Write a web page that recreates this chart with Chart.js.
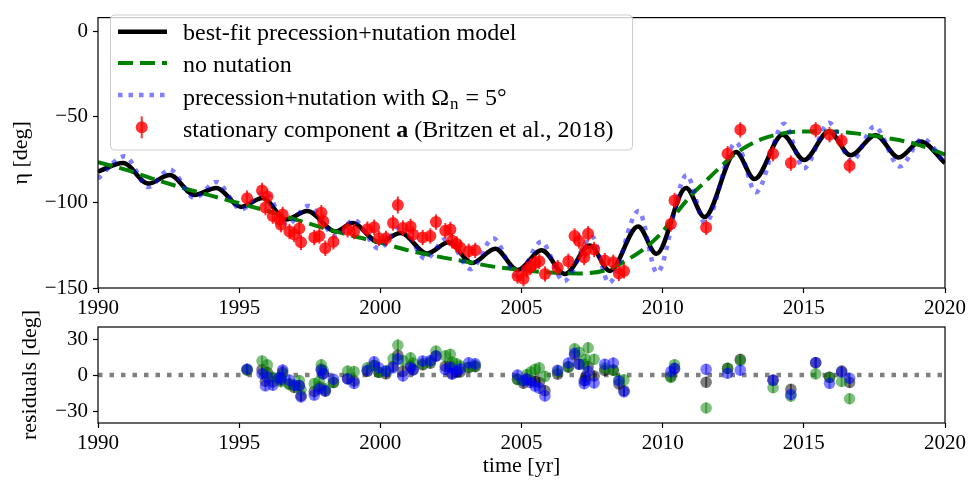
<!DOCTYPE html>
<html>
<head>
<meta charset="utf-8">
<script src="https://cdn.jsdelivr.net/npm/chart.js@4.4.0/dist/chart.umd.min.js"></script>
<style>
  body { margin: 0; background: #fff; }
  #wrap { position: relative; width: 969px; height: 487px; }
  canvas { position: absolute; left: 0; }
</style>
</head>
<body>
<div id="wrap">
  <canvas id="etaChart" width="969" height="320" style="top:0;width:969px;height:320px"></canvas>
  <canvas id="resChart" width="969" height="182" style="top:305px;width:969px;height:182px"></canvas>
</div>
<script>
// best-fit precession+nutation model (turning points)
var tBest   = [1990.0, 1990.89, 1991.78, 1992.54, 1993.42, 1994.19, 1995.07, 1995.83, 1996.66, 1997.41,
               1998.42, 1999.01, 1999.95, 2000.72, 2001.66, 2002.42, 2003.25, 2004.07, 2004.86, 2005.71,
               2006.54, 2007.42, 2008.13, 2009.13, 2009.78, 2010.83, 2011.48, 2012.6, 2013.25, 2014.25,
               2015.01, 2015.89, 2016.66, 2017.54, 2018.36, 2019.13, 2020.0];
var etaBest = [-82, -77, -89, -84, -95.6, -91.5, -102.6, -97.4, -110, -105,
               -117, -112, -123.3, -117.8, -129.8, -123.3, -135.4, -127, -139.5, -128,
               -141.8, -125.2, -140, -114, -130, -91.5, -108.5, -70.6, -86.3, -60.4,
               -75.2, -58.5, -72.4, -60.7, -73.7, -64.4, -77];

// no nutation
var tNoNut   = [1990, 1991, 1992, 1993, 1994, 1995, 1996, 1997, 1998, 1999, 2000, 2001, 2002, 2003, 2004,
                2005, 2006, 2007, 2008, 2009, 2009.5, 2010, 2010.5, 2011, 2011.5, 2012, 2012.5, 2013,
                2013.5, 2014, 2015, 2016, 2017, 2018, 2019, 2020];
var etaNoNut = [-76.5, -81, -86.5, -91.5, -96, -100.5, -105, -110, -115, -119.5, -123.5, -128, -131.5, -134.5, -137.5,
                -139.5, -141, -141.5, -139.5, -131, -125, -117, -106, -96, -88, -80, -72.5, -67,
                -63, -60.5, -58.5, -58.5, -60, -62.5, -66, -72];

// precession+nutation with Omega_n = 5 deg
var tNut5   = [1990, 1990.95, 1991.78, 1992.54, 1993.42, 1994.19, 1995.07, 1995.9, 1996.7, 1997.45,
               1998.45, 1999.05, 1999.95, 2000.75, 2001.6, 2002.35, 2003.2, 2004.0, 2004.85, 2005.7,
               2006.5, 2007.5, 2008.1, 2009.15, 2009.8, 2010.85, 2011.5, 2012.6, 2013.3, 2014.3,
               2015.0, 2015.9, 2016.7, 2017.5, 2018.4, 2019.2, 2020.0];
var etaNut5 = [-86, -73, -91, -80.7, -97.4, -88, -104, -94, -113, -102,
               -120, -110, -127, -114, -133, -121, -139, -121, -143, -123,
               -146, -120, -147, -105, -141, -84, -112, -65, -94, -54,
               -80, -53.5, -76, -55.6, -79, -62.8, -77];

// stationary component a
var tObs = [1995.28, 1995.81, 1996.00, 1995.93, 1996.19, 1996.42, 1996.54, 1996.48, 1996.78, 1996.95,
            1997.13, 1997.19, 1997.66, 1997.91, 1997.98, 1997.84, 1998.05, 1998.34, 1998.84, 1999.07,
            1999.54, 1999.78, 1999.95, 2000.20, 2000.45, 2000.62, 2000.80, 2001.07, 2001.16, 2001.50,
            2001.77, 2001.97, 2002.30, 2002.48, 2002.54, 2002.71, 2002.83, 2003.13, 2003.36, 2004.86,
            2005.07, 2005.19, 2005.33, 2005.48, 2005.63, 2005.83, 2006.28, 2006.66, 2006.88, 2007.04,
            2007.36, 2007.27, 2007.22, 2007.57, 2007.95, 2008.25, 2008.45, 2008.63, 2010.29, 2010.42,
            2011.54, 2012.30, 2012.75, 2013.91, 2014.54, 2015.42, 2015.91, 2016.34, 2016.62];
var etaObs = [-97.5, -93, -96.5, -103, -108, -110, -107, -113, -117, -118.7,
              -115.3, -123.3, -120.5, -106, -111, -119.6, -126.8, -123, -116, -117,
              -115.6, -114.5, -121, -121, -112, -101.5, -115, -114, -118.7, -120.5,
              -119.6, -111.5, -116.5, -115.8, -122.4, -124.3, -126.5, -128.5, -128, -143,
              -144.6, -139.5, -137.5, -135.4, -134.4, -141.8, -138, -134.4, -119.6, -122.5,
              -118.3, -128, -132.2, -127.5, -134, -135, -141.5, -140, -112.6, -98.9,
              -114.6, -71.5, -57.6, -71.5, -77, -57.6, -60.4, -64, -78.5];
var etaErr = [4.5, 4.5, 4.5, 4.5, 4.5, 4.5, 4.5, 4.5, 4.5, 4.5,
              4.5, 4.5, 4.5, 4.5, 4.5, 4.5, 4.5, 4.5, 4.5, 4.5,
              4.5, 4.5, 4.5, 4.5, 4.5, 5, 4.5, 4.5, 4.5, 4.5,
              4.5, 4.5, 4.5, 4.5, 4.5, 4.5, 4.5, 4.5, 4.5, 4.5,
              4.5, 4.5, 4.5, 4.5, 4.5, 4.5, 4.5, 4.5, 4.5, 4.5,
              4.5, 4.5, 4.5, 4.5, 4.5, 4.5, 4.5, 4.5, 4.5, 4.5,
              4.5, 4.5, 4.5, 4.5, 4.5, 4.5, 4.5, 4.5, 4.5];

// residuals per model
var resBest  = [4.2, 4.4, 2.1, -5.2, -5.7, -2.5, 2.4, -4.3, -7.3, -10.3,
                -8.7, -17.3, -13.7, 5, 1.3, -9.9, -13.5, -6.2, -3, -4.9,
                3.1, 7.9, 2.3, 1, 7.3, 16.5, 3, 7.4, 4.5, 8.5,
                9.9, 16, 7.2, 7.6, 1.5, 2.3, 2.6, 6.3, 7, -3.5,
                -6.8, -3.8, -4.7, -5.4, -6.2, -13.1, 0.8, 6.6, 16.7, 9.2,
                7, -1.6, -4.8, -0.8, 3.8, 4.1, -7.5, -13, -1.1, 5.3,
                -6, 5.5, 13, -4.4, -12, 10.1, -1.9, 3.3, -6.2];
var resNoNut = [4.3, 11.7, 8.5, 1.6, -2, -2.9, 0.7, -5.6, -8.1, -8.9,
                -4.6, -12.3, -7.2, 8.5, 3.9, -5.4, -11.5, -6.3, 3.3, 2.8,
                6.1, 8.1, 2.3, 3.4, 13.5, 24.8, 12.1, 14.3, 9.9, 9.3,
                11.1, 19.9, 15.9, 17.2, 10.7, 9.3, 7.5, 6.4, 7.6, -3.8,
                -5, 0.3, 2.5, 4.8, 6, -1.1, 3.1, 6.9, 21.8, 19,
                22.7, 13.2, 9.1, 13.1, 5.7, 4, -4, -4, -2.1, 8.6,
                -27.5, 5.5, 12, -10.5, -17.6, 0.9, -1.9, -5.4, -19.8];
var resNut5  = [5, 1, -1.8, -9, -8.5, -2.1, 4.2, -3.4, -4.3, -8.5,
                -9, -18.3, -16.7, 3.9, 0.9, -11.6, -13, -3.5, -3.3, -7,
                3.9, 11, 6, 3.1, 6, 13.3, -0.8, 6.1, 4.2, 11.7,
                12, 15.7, 4.6, 6.2, 0.7, 3.4, 5.1, 10.1, 9.3, 0,
                -4.8, -3.4, -6.3, -9.2, -11, -17.4, 3.9, 10, 18.1, 8.9,
                3, -4.6, -7.3, -6.6, 9, 10, -5, -14, 2.8, 5.6,
                4.7, 1.5, 4, -4.3, -16.2, 10.4, -6.9, 2.5, -2.7];

var xRange  = [1990, 2020];
var xTicks  = [1990, 1995, 2000, 2005, 2010, 2015, 2020];
var etaTicks = [-150, -100, -50, 0];
var resTicks = [-30, 0, 30];

function pts(xs, ys) {
  return xs.map(function(x, i) { return {x: x, y: ys[i]}; });
}
function minus(v) {
  return v < 0 ? '\u2212' + Math.abs(v) : String(v);
}

Chart.defaults.font.family = "'Liberation Serif', 'Times New Roman', serif";
Chart.defaults.font.size = 21;
Chart.defaults.color = '#000';

var errorBars = {
  id: 'errorBars',
  beforeDatasetDraw: function(chart, args) {
    var ds = chart.data.datasets[args.index];
    if (!ds.err) return;
    var ctx = chart.ctx, x = chart.scales.x, y = chart.scales.y;
    ctx.save();
    ctx.strokeStyle = ds.backgroundColor;
    ctx.lineWidth = 2;
    ds.data.forEach(function(p, i) {
      var px = x.getPixelForValue(p.x);
      ctx.beginPath();
      ctx.moveTo(px, y.getPixelForValue(p.y - ds.err[i]));
      ctx.lineTo(px, y.getPixelForValue(p.y + ds.err[i]));
      ctx.stroke();
    });
    ctx.restore();
  }
};

var frame = {
  id: 'frame',
  afterDraw: function(chart) {
    var a = chart.chartArea, ctx = chart.ctx;
    ctx.save();
    ctx.strokeStyle = '#000';
    ctx.lineWidth = 1.2;
    ctx.strokeRect(a.left, a.top, a.right - a.left, a.bottom - a.top);
    ctx.restore();
  }
};

var legendBox = {
  id: 'legendBox',
  afterDraw: function(chart) {
    var ctx = chart.ctx;
    var bx = 110.5, by = 15, bw = 522, bh = 135;
    ctx.save();
    ctx.beginPath();
    ctx.roundRect(bx, by, bw, bh, 4);
    ctx.fillStyle = 'rgba(255,255,255,0.8)';
    ctx.fill();
    ctx.strokeStyle = '#cccccc';
    ctx.lineWidth = 1;
    ctx.stroke();

    var x0 = 118, x1 = 167, tx = 183;
    var rows = [31.7, 63, 95, 127.3];
    var base = [40, 72, 104.5, 136.5];

    ctx.lineCap = 'butt';
    ctx.strokeStyle = '#000'; ctx.lineWidth = 4.5; ctx.setLineDash([]);
    ctx.beginPath(); ctx.moveTo(x0, rows[0]); ctx.lineTo(x1, rows[0]); ctx.stroke();
    ctx.strokeStyle = 'green'; ctx.lineWidth = 4; ctx.setLineDash([15, 7]);
    ctx.beginPath(); ctx.moveTo(x0, rows[1]); ctx.lineTo(x1, rows[1]); ctx.stroke();
    ctx.strokeStyle = 'rgba(0,0,255,0.5)'; ctx.lineWidth = 4.5; ctx.setLineDash([4.5, 6]);
    ctx.beginPath(); ctx.moveTo(x0, rows[2]); ctx.lineTo(x1, rows[2]); ctx.stroke();
    ctx.setLineDash([]);
    var mx = (x0 + x1) / 2 - 0.8;
    ctx.strokeStyle = 'rgba(255,0,0,0.8)'; ctx.lineWidth = 2;
    ctx.beginPath(); ctx.moveTo(mx, rows[3] - 11); ctx.lineTo(mx, rows[3] + 11); ctx.stroke();
    ctx.fillStyle = 'rgba(255,0,0,0.8)';
    ctx.beginPath(); ctx.arc(mx, rows[3], 6, 0, Math.PI * 2); ctx.fill();

    var f = "'Liberation Serif', serif";
    ctx.fillStyle = '#000';
    ctx.textBaseline = 'alphabetic';
    ctx.textAlign = 'left';
    ctx.font = '24px ' + f;
    ctx.fillText('best-fit precession+nutation model', tx, base[0]);
    ctx.fillText('no nutation', tx, base[1]);
    var s = 'precession+nutation with \u03A9';
    ctx.fillText(s, tx, base[2]);
    var w = ctx.measureText(s).width;
    ctx.font = '17px ' + f;
    ctx.fillText('n', tx + w + 1, base[2] + 4);
    var w2 = ctx.measureText('n').width;
    ctx.font = '24px ' + f;
    ctx.fillText(' = 5\u00B0', tx + w + w2 + 2, base[2]);
    var s1 = 'stationary component ';
    ctx.fillText(s1, tx, base[3]);
    var w3 = ctx.measureText(s1).width;
    ctx.font = 'bold 24px ' + f;
    ctx.fillText('a', tx + w3, base[3]);
    var w4 = ctx.measureText('a').width;
    ctx.font = '24px ' + f;
    ctx.fillText(' (Britzen et al., 2018)', tx + w3 + w4, base[3]);
    ctx.restore();
  }
};

function xScale(h, withTitle) {
  var sc = {
    type: 'linear', min: xRange[0], max: xRange[1],
    afterBuildTicks: function(s) { s.ticks = xTicks.map(function(v) { return {value: v}; }); },
    afterFit: function(s) { s.height = h; },
    ticks: { padding: 3, maxRotation: 0, callback: function(v) { return String(v); } },
    grid: { drawOnChartArea: false, tickLength: 5, tickColor: '#000', tickWidth: 1.2 },
    border: { display: false }
  };
  if (withTitle) {
    sc.title = { display: true, text: 'time [yr]', font: { size: 22 }, padding: { top: 0, bottom: 8 } };
  }
  return sc;
}

function yScale(lo, hi, tickList, title, titlePad) {
  return {
    type: 'linear', min: lo, max: hi,
    afterBuildTicks: function(s) { s.ticks = tickList.map(function(v) { return {value: v}; }); },
    afterFit: function(s) { s.width = 98; },
    ticks: { padding: 5, callback: minus },
    grid: { drawOnChartArea: false, tickLength: 5, tickColor: '#000', tickWidth: 1.2 },
    border: { display: false },
    title: { display: true, text: title, font: { size: 22 }, padding: { top: titlePad, bottom: 0 } }
  };
}

var common = {
  responsive: false,
  animation: false,
  events: [],
  plugins: { legend: { display: false }, tooltip: { enabled: false } }
};

new Chart(document.getElementById('etaChart'), {
  type: 'scatter',
  data: {
    datasets: [
      { label: 'stationary component a (Britzen et al., 2018)', data: pts(tObs, etaObs), err: etaErr,
        backgroundColor: 'rgba(255,0,0,0.8)', borderWidth: 0, pointRadius: 6, order: 0 },
      { label: 'precession+nutation with \u03A9n = 5\u00B0', data: pts(tNut5, etaNut5), showLine: true,
        borderColor: 'rgba(0,0,255,0.5)', borderWidth: 4.5, borderDash: [4.5, 6], borderCapStyle: 'butt',
        pointRadius: 0, cubicInterpolationMode: 'monotone', order: 1 },
      { label: 'no nutation', data: pts(tNoNut, etaNoNut), showLine: true,
        borderColor: 'green', borderWidth: 4, borderDash: [15, 7], borderCapStyle: 'butt',
        pointRadius: 0, cubicInterpolationMode: 'monotone', order: 2 },
      { label: 'best-fit precession+nutation model', data: pts(tBest, etaBest), showLine: true,
        borderColor: '#000', borderWidth: 4.5, pointRadius: 0, cubicInterpolationMode: 'monotone', order: 3 }
    ]
  },
  options: Object.assign({}, common, {
    layout: { padding: { top: 4, right: 21, left: 0, bottom: 0 } },
    scales: {
      x: xScale(32, false),
      y: yScale(-150, 8, etaTicks, '\u03B7 [deg]', 8)
    }
  }),
  plugins: [errorBars, frame, legendBox]
});

new Chart(document.getElementById('resChart'), {
  type: 'scatter',
  data: {
    datasets: [
      { label: 'precession+nutation with \u03A9n = 5\u00B0', data: pts(tObs, resNut5), err: etaErr,
        backgroundColor: 'rgba(0,0,255,0.5)', borderWidth: 0, pointRadius: 5.8, order: 0 },
      { label: 'no nutation', data: pts(tObs, resNoNut), err: etaErr,
        backgroundColor: 'rgba(0,128,0,0.5)', borderWidth: 0, pointRadius: 5.8, order: 1 },
      { label: 'best-fit precession+nutation model', data: pts(tObs, resBest), err: etaErr,
        backgroundColor: 'rgba(0,0,0,0.5)', borderWidth: 0, pointRadius: 5.8, order: 2 },
      { label: 'zero', data: pts(xRange, [0, 0]), showLine: true,
        borderColor: 'rgba(128,128,128,1)', borderWidth: 4.5, borderDash: [4.5, 7], borderCapStyle: 'butt',
        pointRadius: 0, order: 3 }
    ]
  },
  options: Object.assign({}, common, {
    layout: { padding: { top: 22, right: 21, left: 0, bottom: 0 } },
    scales: {
      x: xScale(64, true),
      y: yScale(-40, 40, resTicks, 'residuals [deg]', 17)
    }
  }),
  plugins: [errorBars, frame]
});
</script>
</body>
</html>
